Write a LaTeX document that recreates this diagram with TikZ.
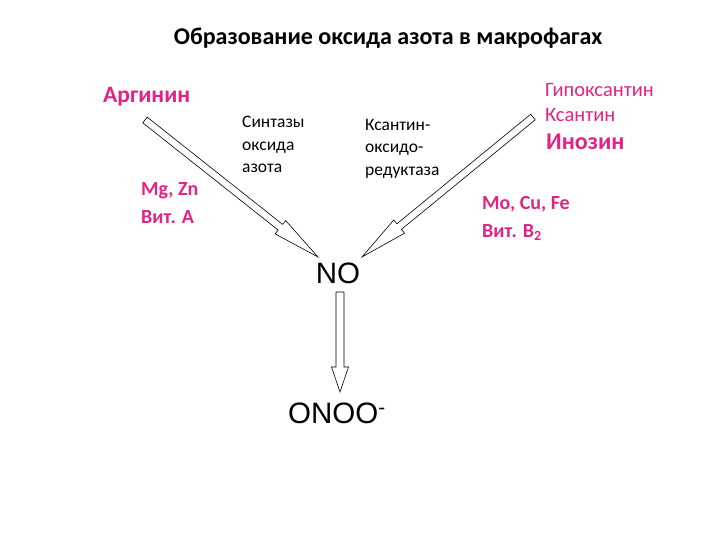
\documentclass[tikz,border=0pt]{standalone}
\usepackage{fontspec}
\setmainfont{Carlito}
\newfontfamily\arialfont{Liberation Sans}
\usetikzlibrary{calc}
\definecolor{pinkred}{RGB}{224,36,132}

\tikzset{
  arrowdims/.code args={#1/#2/#3}{\def\hashaft{#1}\def\hahead{#2}\def\halen{#3}},
  hollowarrow/.style={draw=black, fill=white, line width=0.6pt, line join=miter,
    to path={($(\tikztostart)!\hashaft!90:(\tikztotarget)$)
      -- ($(\tikztotarget)!\halen!(\tikztostart)!\hashaft!-90:(\tikztostart)$)
      -- ($(\tikztotarget)!\halen!(\tikztostart)!\hahead!-90:(\tikztostart)$)
      -- (\tikztotarget)
      -- ($(\tikztotarget)!\halen!(\tikztostart)!\hahead!90:(\tikztostart)$)
      -- ($(\tikztotarget)!\halen!(\tikztostart)!\hashaft!90:(\tikztostart)$)
      -- ($(\tikztostart)!\hashaft!-90:(\tikztotarget)$) -- cycle}},
  enzyme/.style={anchor=north west, inner sep=0pt, align=left, font=\fontsize{17.5}{22.5}\selectfont},
  cofactor/.style={anchor=north west, inner sep=0pt, align=left, text=pinkred, font=\bfseries\fontsize{20}{28}\selectfont},
  formula/.style={inner sep=0pt, font=\arialfont\fontsize{29.5}{33}\selectfont}
}

\begin{document}
\begin{tikzpicture}[x=1pt, y=-1pt]
  \useasboundingbox (0,0) rectangle (720,540);

  % title
  \node[font=\bfseries\fontsize{24}{28}\selectfont] (title) at (388,38) {Образование оксида азота в макрофагах};

  % substrates
  \node[anchor=west, inner sep=0pt, text=pinkred, font=\bfseries\fontsize{23.5}{28}\selectfont] (arginine) at (103,97) {Аргинин};
  \node[anchor=north west, inner sep=0pt, align=left, text=pinkred, font=\fontsize{20.5}{25}\selectfont] (purines) at (545,83) {Гипоксантин\\Ксантин};
  \node[anchor=north west, inner sep=0pt, text=pinkred, font=\bfseries\fontsize{24}{28}\selectfont] (inosine) at (546,134) {Инозин};

  % enzymes and cofactors
  \node[enzyme] (nos) at (242,116) {Синтазы\\оксида\\азота};
  \node[enzyme] (xor) at (365,119) {Ксантин-\\оксидо-\\редуктаза};
  \node[cofactor] (mgzn) at (141,182) {Mg, Zn\\Вит. A};
  \node[cofactor] (mocufe) at (482,196) {Mo, Cu, Fe\\Вит. B\textsubscript{2}};

  % products
  \node[formula] (no) at (338,273) {NO};
  \node[formula, anchor=west] (onoo) at (288,413) {ONOO\textsuperscript{-}};

  % arrow ends
  \coordinate (argtail) at (145,120);
  \coordinate (arghead) at (318,257);
  \coordinate (xantail) at (533,117);
  \coordinate (xanhead) at (362,257);
  \coordinate (notail) at (340,292);
  \coordinate (nohead) at (340,392);

  \draw[arrowdims={3.6pt/8.5pt/48pt}, hollowarrow] (argtail) to (arghead);
  \draw[arrowdims={3.6pt/8.5pt/48pt}, hollowarrow] (xantail) to (xanhead);
  \draw[arrowdims={4pt/8.5pt/25pt}, hollowarrow] (notail) to (nohead);
\end{tikzpicture}
\end{document}
